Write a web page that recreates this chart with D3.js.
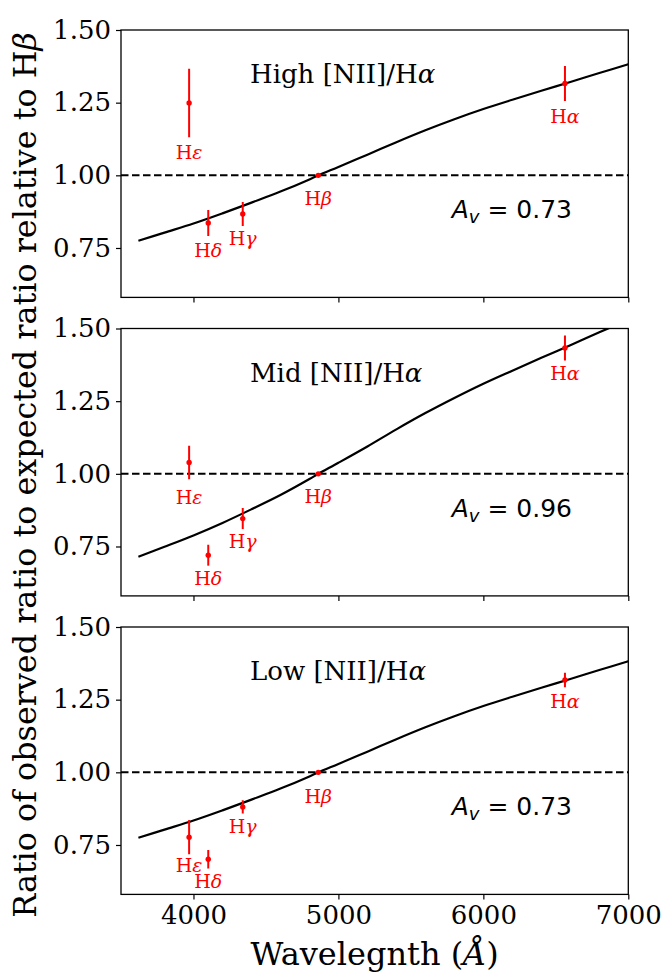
<!DOCTYPE html>
<html>
<head>
<meta charset="utf-8">
<script src="https://cdn.jsdelivr.net/npm/d3@7"></script>
<style>
  body { margin: 0; background: #fff; }
  text { white-space: pre; }
</style>
</head>
<body>
<div id="viz"></div>
<script>
// Balmer decrement ratios vs. wavelength, three [NII]/Ha bins

// line wavelengths (Angstrom) and greek letters
const lineWave = [3970, 4102, 4340, 4861, 6563];
const lineGreek = ["ε", "δ", "γ", "β", "α"];

// panel names and Av
const panelNames = ["High", "Mid", "Low"];
const avText = ["0.73", "0.96", "0.73"];

// observed / expected ratios and errors
const ratioHigh = [1.249, 0.836, 0.867, 1.000, 1.316];
const errHigh   = [0.118, 0.045, 0.041, 0.000, 0.060];
const ratioMid  = [1.039, 0.720, 0.846, 1.000, 1.433];
const errMid    = [0.058, 0.036, 0.036, 0.000, 0.043];
const ratioLow  = [0.777, 0.701, 0.881, 1.000, 1.318];
const errLow    = [0.059, 0.032, 0.023, 0.000, 0.025];

// label baseline (data units) under each point
const labelHigh = [1.057, 0.718, 0.759, 0.899, 1.181];
const labelMid  = [0.897, 0.616, 0.745, 0.900, 1.322];
const labelLow  = [0.658, 0.601, 0.790, 0.895, 1.220];

// attenuation curves
const curveWave = [3620, 3800, 4000, 4200, 4400, 4600, 4800, 4861, 5000, 5200, 5400, 5600, 5800, 6000, 6200, 6400, 6600, 6800, 7000];
const curveAv073 = [0.775, 0.803, 0.834, 0.869, 0.906, 0.944, 0.986, 1.000, 1.029, 1.071, 1.114, 1.155, 1.193, 1.228, 1.260, 1.291, 1.321, 1.352, 1.382];
const curveAv096 = [0.715, 0.749, 0.788, 0.831, 0.878, 0.927, 0.982, 1.000, 1.038, 1.094, 1.153, 1.209, 1.261, 1.310, 1.355, 1.399, 1.442, 1.487, 1.530];

const xTicks = [4000, 5000, 6000, 7000];
const yTicks = [0.75, 1.00, 1.25, 1.50];

const panels = [
  { ratio: ratioHigh, err: errHigh, labelY: labelHigh, curve: curveAv073 },
  { ratio: ratioMid,  err: errMid,  labelY: labelMid,  curve: curveAv096 },
  { ratio: ratioLow,  err: errLow,  labelY: labelLow,  curve: curveAv073 }
];

const W = 665, H = 973;
const left = 121, right = 628.3;
const panelTop0 = 30, panelStep = 298.5, panelH = 267.4;
const serif = "DejaVu Serif";
const sans = "DejaVu Sans";
const red = "#ff0000";

const svg = d3.select("#viz").append("svg")
  .attr("width", W)
  .attr("height", H);

const x = d3.scaleLinear().domain([3500, 7000]).range([left, right]);

panels.forEach((p, i) => {
  const top = panelTop0 + i * panelStep;
  const y = d3.scaleLinear().domain([0.58, 1.5]).range([top + panelH, top]);
  const g = svg.append("g");

  // clip to plot area
  g.append("clipPath").attr("id", "clip" + i)
    .append("rect")
    .attr("x", left).attr("y", top)
    .attr("width", right - left).attr("height", panelH);
  const plot = g.append("g").attr("clip-path", `url(#clip${i})`);

  // dashed line at 1
  plot.append("line")
    .attr("x1", x(3500)).attr("x2", x(7000))
    .attr("y1", y(1)).attr("y2", y(1))
    .attr("stroke", "#000")
    .attr("stroke-width", 2)
    .attr("stroke-dasharray", "7.5,3.5");

  // model curve
  const line = d3.line()
    .x((d, k) => x(curveWave[k]))
    .y(d => y(d))
    .curve(d3.curveCatmullRom.alpha(0.5));
  plot.append("path")
    .attr("d", line(p.curve))
    .attr("fill", "none")
    .attr("stroke", "#000")
    .attr("stroke-width", 2.2);

  // error bars + points
  plot.selectAll(".eb").data(p.ratio).enter().append("line")
    .attr("x1", (d, k) => x(lineWave[k]))
    .attr("x2", (d, k) => x(lineWave[k]))
    .attr("y1", (d, k) => y(d - p.err[k]))
    .attr("y2", (d, k) => y(d + p.err[k]))
    .attr("stroke", red)
    .attr("stroke-width", 2);
  plot.selectAll(".pt").data(p.ratio).enter().append("circle")
    .attr("cx", (d, k) => x(lineWave[k]))
    .attr("cy", d => y(d))
    .attr("r", 2.7)
    .attr("fill", red);

  // line labels
  const lab = g.selectAll(".lab").data(p.labelY).enter().append("text")
    .attr("x", (d, k) => x(lineWave[k]))
    .attr("y", d => y(d))
    .attr("text-anchor", "middle")
    .attr("font-family", serif)
    .attr("font-size", 19)
    .attr("fill", red);
  lab.append("tspan").text("H");
  lab.append("tspan").attr("font-style", "italic").text((d, k) => lineGreek[k]);

  // panel title
  const title = g.append("text")
    .attr("x", x(4390)).attr("y", y(1.317))
    .attr("font-family", serif)
    .attr("font-size", 26);
  title.append("tspan").text(panelNames[i] + " [NII]/H");
  title.append("tspan").attr("font-style", "italic").text("α");

  // Av annotation
  const av = g.append("text")
    .attr("x", x(5782)).attr("y", y(0.852))
    .attr("font-family", sans)
    .attr("font-size", 25);
  av.append("tspan").attr("font-style", "italic").text("A");
  av.append("tspan").attr("font-style", "italic").attr("font-size", 18).attr("dy", 5).text("v");
  av.append("tspan").attr("dy", -5).text(" = " + avText[i]);

  // axes
  const yAxis = g.append("g")
    .attr("transform", `translate(${left},0)`)
    .call(d3.axisLeft(y).tickValues(yTicks).tickFormat(d3.format(".2f")).tickSize(5).tickPadding(5));
  const xAxis = g.append("g")
    .attr("transform", `translate(0,${top + panelH})`)
    .call(d3.axisBottom(x).tickValues(xTicks).tickSize(5).tickPadding(6)
      .tickFormat(i === 2 ? d3.format("d") : () => ""));
  [yAxis, xAxis].forEach(a => {
    a.select(".domain").remove();
    a.selectAll("line").attr("stroke", "#000").attr("stroke-width", 1.2);
    a.selectAll("text")
      .attr("font-family", serif)
      .attr("font-size", 26)
      .attr("fill", "#000");
  });

  // frame
  g.append("rect")
    .attr("x", left).attr("y", top)
    .attr("width", right - left).attr("height", panelH)
    .attr("fill", "none")
    .attr("stroke", "#000")
    .attr("stroke-width", 1.3);
});

// axis titles
const xl = svg.append("text")
  .attr("x", (left + right) / 2).attr("y", 965)
  .attr("text-anchor", "middle")
  .attr("font-family", serif)
  .attr("font-size", 32);
xl.append("tspan").text("Wavelegnth (");
xl.append("tspan").attr("font-style", "italic").text("Å");
xl.append("tspan").text(")");

const yl = svg.append("text")
  .attr("transform", "translate(36,475) rotate(-90)")
  .attr("text-anchor", "middle")
  .attr("font-family", serif)
  .attr("font-size", 31.8);
yl.append("tspan").text("Ratio of observed ratio to expected ratio relative to H");
yl.append("tspan").attr("font-style", "italic").text("β");
</script>
</body>
</html>
